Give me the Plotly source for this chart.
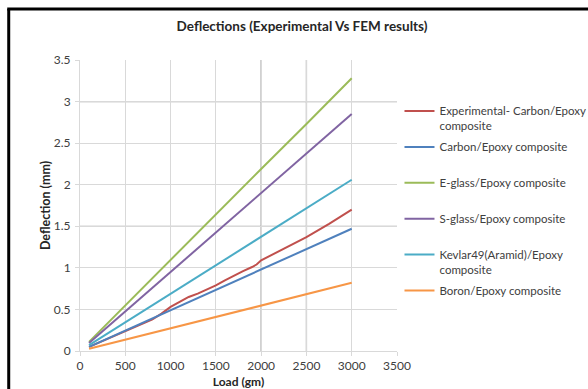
import plotly.graph_objects as go

# ---- data ----
load_fem = [100, 500, 1000, 1500, 2000, 2500, 3000]
carbon_fem = [0.05, 0.245, 0.49, 0.735, 0.98, 1.225, 1.47]
eglass_fem = [0.11, 0.55, 1.09, 1.64, 2.19, 2.73, 3.28]
sglass_fem = [0.095, 0.475, 0.95, 1.425, 1.90, 2.375, 2.85]
kevlar_fem = [0.07, 0.345, 0.69, 1.03, 1.375, 1.72, 2.06]
boron_fem = [0.027, 0.137, 0.273, 0.41, 0.547, 0.683, 0.82]

load_exp = [100, 500, 800, 900, 1000, 1100, 1200, 1300, 1400, 1500, 1600, 1700,
            1800, 1900, 1950, 2000, 2250, 2500, 2750, 3000]
exp_carbon = [0.05, 0.24, 0.38, 0.45, 0.53, 0.59, 0.65, 0.69, 0.74, 0.79, 0.85, 0.91,
              0.96, 1.01, 1.04, 1.09, 1.23, 1.37, 1.53, 1.70]

x_ticks = [0, 500, 1000, 1500, 2000, 2500, 3000, 3500]
y_ticks = [0, 0.5, 1, 1.5, 2, 2.5, 3, 3.5]
y_tick_text = ["0", "0.5", "1", "1.5", "2", "2.5", "3", "3.5"]

names = [
    "Experimental- Carbon/Epoxy<br>composite",
    "Carbon/Epoxy composite<br> ",
    "E-glass/Epoxy composite<br> ",
    "S-glass/Epoxy composite<br> ",
    "Kevlar49(Aramid)/Epoxy<br>composite",
    "Boron/Epoxy composite<br> ",
]
colors = ["#C0504D", "#4F81BD", "#9BBB59", "#8064A2", "#4BACC6", "#F79646"]

FONT = "Lato"

fig = go.Figure()
series = [
    (load_exp, exp_carbon),
    (load_fem, carbon_fem),
    (load_fem, eglass_fem),
    (load_fem, sglass_fem),
    (load_fem, kevlar_fem),
    (load_fem, boron_fem),
]
for i, ((xs, ys), nm, c) in enumerate(zip(series, names, colors)):
    fig.add_trace(go.Scatter(x=xs, y=ys, mode="lines", name=nm,
                             legendgroup=str(i),
                             line=dict(color=c, width=2)))

# plot-area pixel geometry
L, R, T, B = 79.5, 397.5, 60, 351
W, H = 588, 389

def px(xp):
    return (xp - L) / (R - L)

def py(yp):
    return (B - yp) / (B - T)

shapes = []
# darker grid lines (as in the reference image)
for xv in [2000, 2500]:
    shapes.append(dict(type="line", xref="x", yref="y", x0=xv, x1=xv, y0=0, y1=3.5,
                       line=dict(color="#A6A6A6", width=1.3), layer="below"))
for yv in [1.5, 3]:
    shapes.append(dict(type="line", xref="x", yref="y", x0=0, x1=3500, y0=yv, y1=yv,
                       line=dict(color="#A6A6A6", width=1.3), layer="below"))
# black frame (top and left)
shapes.append(dict(type="line", xref="paper", yref="paper",
                   x0=px(8), x1=px(8), y0=py(400), y1=py(9),
                   line=dict(color="black", width=3)))
shapes.append(dict(type="line", xref="paper", yref="paper",
                   x0=px(6.5), x1=px(600), y0=py(9), y1=py(9),
                   line=dict(color="black", width=3)))

fig.update_layout(
    width=W, height=H,
    margin=dict(l=L, r=W - R, t=T, b=H - B, autoexpand=False),
    paper_bgcolor="white", plot_bgcolor="white",
    font=dict(family=FONT, size=12, color="#404040"),
    title=dict(text="<b>Deflections (Experimental Vs FEM results)</b>",
               x=302 / W, xref="container", xanchor="center",
               y=1 - 26 / H, yref="container", yanchor="middle",
               font=dict(family=FONT, size=13.5, color="#262626")),
    xaxis=dict(range=[0, 3500], tickvals=x_ticks, showgrid=True, gridcolor="#D9D9D9",
               gridwidth=1, zeroline=False, showline=True, linecolor="#D9D9D9",
               ticks="outside", ticklen=4, tickcolor="#D9D9D9",
               ticklabelstandoff=0, automargin=False,
               tickfont=dict(size=12, color="#404040"),
               title=dict(text="<b>Load (gm)</b>", standoff=8,
                          font=dict(size=12, color="#262626"))),
    yaxis=dict(range=[0, 3.5], tickvals=y_ticks, ticktext=y_tick_text, showgrid=True,
               gridcolor="#D9D9D9", gridwidth=1, zeroline=False, showline=True,
               linecolor="#D9D9D9", ticks="outside", ticklen=4, tickcolor="#D9D9D9",
               ticklabelstandoff=2, automargin=False,
               tickfont=dict(size=12, color="#404040"),
               title=dict(text="<b>Deflection (mm)</b>", standoff=0,
                          font=dict(size=12.5, color="#262626"))),
    legend=dict(x=px(400), y=py(97), xanchor="left", yanchor="top",
                traceorder="grouped", tracegroupgap=3, valign="top",
                itemwidth=30, font=dict(size=11.5, color="#404040"),
                bgcolor="rgba(0,0,0,0)"),
    shapes=shapes,
    showlegend=True,
)

fig.write_html("out.html")
